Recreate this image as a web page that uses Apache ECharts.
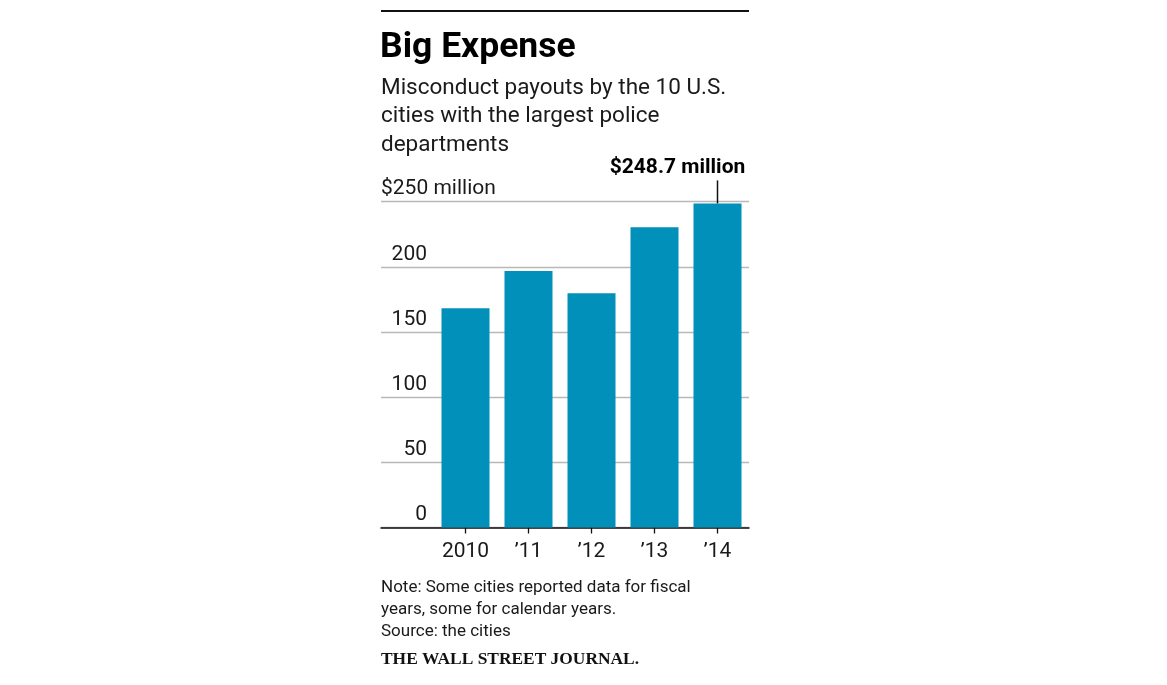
<!DOCTYPE html>
<html>
<head>
<meta charset="utf-8">
<title>Big Expense</title>
<script src="https://cdn.jsdelivr.net/npm/echarts@6/dist/echarts.min.js"></script>
<style>
	html, body { margin: 0; padding: 0; background: #fff; }
	#chart { width: 1167px; height: 685px; }
</style>
</head>
<body>
<div id="chart"></div>
<script>
// data
var categories = [ '2010', '\u201911', '\u201912', '\u201913', '\u201914' ];
var payouts = [ 168.2, 196.8, 179.7, 230.4, 248.7 ]; // $ million
var yTicks = [ 0, 50, 100, 150, 200, 250 ];

var yMin = yTicks[0];
var yMax = yTicks[yTicks.length - 1];
var yStep = yTicks[1] - yTicks[0];

var sans = 'Roboto, "Noto Sans", sans-serif';
var lastIdx = payouts.length - 1;

var option = {
	animation : false,
	graphic : [ {
		type : 'line',
		shape : { x1 : 381, y1 : 11, x2 : 749, y2 : 11 },
		style : { stroke : '#111', lineWidth : 2 }
	} ],
	title : [ {
		text : 'Big Expense',
		left : 380,
		top : 30,
		padding : 0,
		textStyle : { fontFamily : sans, fontSize : 35.5, fontWeight : 'bold', color : '#000' }
	}, {
		text : 'Misconduct payouts by the 10 U.S.\ncities with the largest police\ndepartments',
		left : 381,
		top : 74,
		padding : 0,
		textStyle : { fontFamily : sans, fontSize : 22.5, lineHeight : 28.5, fontWeight : 'normal', color : '#1a1a1a' }
	}, {
		text : 'Note: Some cities reported data for fiscal\nyears, some for calendar years.\nSource: the cities',
		left : 381,
		top : 577,
		padding : 0,
		textStyle : { fontFamily : sans, fontSize : 17, lineHeight : 22, fontWeight : 'normal', color : '#1a1a1a' }
	}, {
		text : 'THE WALL STREET JOURNAL.',
		left : 381,
		top : 651,
		padding : 0,
		textStyle : { fontFamily : '"Liberation Serif", "DejaVu Serif", serif', fontSize : 17.4, fontWeight : 'bold', color : '#111' }
	} ],
	grid : [ {
		left : 381,
		right : 418,
		top : 201.7,
		bottom : 157.5
	}, {
		left : 434,
		right : 418,
		top : 201.7,
		bottom : 157.5
	} ],
	xAxis : [ {
		type : 'value',
		gridIndex : 0,
		min : 0,
		max : 1,
		axisLine : { show : true, lineStyle : { color : '#111', width : 1.5 } },
		axisTick : { show : false },
		axisLabel : { show : false },
		splitLine : { show : false }
	}, {
		type : 'category',
		gridIndex : 1,
		data : categories,
		axisLine : { show : false },
		axisTick : { show : true, alignWithLabel : true, length : 6, lineStyle : { color : '#111', width : 1.3 } },
		axisLabel : { margin : 14, fontFamily : sans, fontSize : 21, color : '#1a1a1a' }
	} ],
	yAxis : [ {
		type : 'value',
		gridIndex : 0,
		min : yMin,
		max : yMax,
		interval : yStep,
		axisLine : { show : false },
		axisTick : { show : false },
		splitLine : { show : true, lineStyle : { color : '#b8b8b8', width : 1.3 } },
		axisLabel : {
			inside : true,
			margin : 0,
			verticalAlign : 'bottom',
			padding : [ 0, 0, 2, 0 ],
			formatter : function(v) {
				return v === yMax ? '{top|$' + v + ' million}' : '{num|' + v + '}';
			},
			rich : {
				top : { fontFamily : sans, fontSize : 21, color : '#1a1a1a', align : 'left' },
				num : { fontFamily : sans, fontSize : 21, color : '#1a1a1a', width : 46, align : 'right' }
			}
		}
	}, {
		type : 'value',
		gridIndex : 1,
		min : yMin,
		max : yMax,
		interval : yStep,
		show : false,
		splitLine : { show : false }
	} ],
	series : [ {
		type : 'bar',
		xAxisIndex : 1,
		yAxisIndex : 1,
		data : payouts,
		barWidth : 48,
		itemStyle : { color : '#0090b9' },
		silent : true,
		markPoint : {
			silent : true,
			symbol : 'rect',
			symbolSize : [ 1.5, 23 ],
			symbolOffset : [ 0, '-50%' ],
			itemStyle : { color : '#111' },
			label : {
				show : true,
				position : 'top',
				distance : 2,
				offset : [ -40, 0 ],
				fontFamily : sans,
				fontSize : 21,
				fontWeight : 'bold',
				color : '#000',
				formatter : function(p) {
					return '$' + p.value + ' million';
				}
			},
			data : [ {
				coord : [ categories[lastIdx], payouts[lastIdx] ],
				value : payouts[lastIdx]
			} ]
		}
	} ]
};

var chart = echarts.init(document.getElementById('chart'));
chart.setOption(option);
</script>
</body>
</html>
